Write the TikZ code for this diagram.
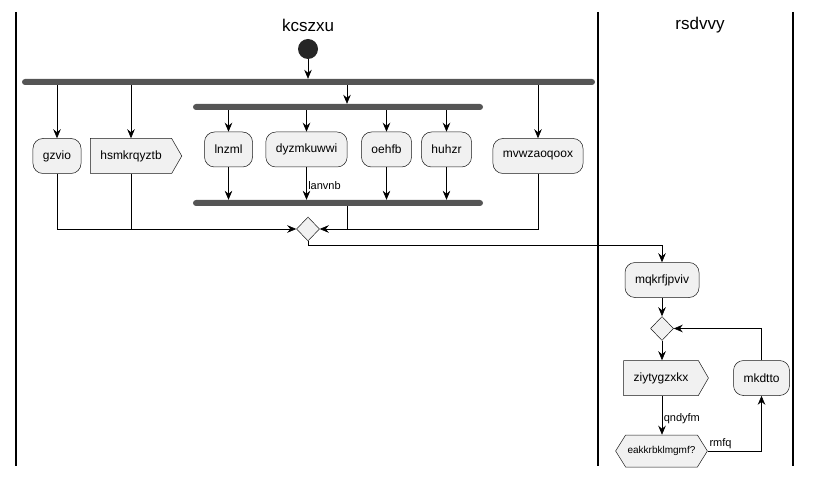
\documentclass[tikz,border=0pt]{standalone}
\usepackage{fontspec}
\setmainfont{Liberation Sans}
\usepackage{tikz}
\usetikzlibrary{arrows.meta,shapes.symbols,shapes.geometric}

\definecolor{boxfill}{HTML}{F1F1F1}
\definecolor{boxline}{HTML}{181818}
\definecolor{barfill}{HTML}{555555}

\tikzset{
  action/.style={draw=boxline, line width=0.5pt, fill=boxfill, rounded corners=10pt,
    minimum height=35pt, inner xsep=10pt, font=\fontsize{12}{14}\selectfont},
  sendsig/.style={signal, signal to=east, signal pointer angle=120, draw=boxline,
    line width=0.5pt, fill=boxfill, minimum height=35pt, inner xsep=10pt,
    font=\fontsize{12}{14}\selectfont},
  choice/.style={signal, signal to=west and east, signal pointer angle=116, draw=boxline,
    line width=0.5pt, fill=boxfill, minimum height=32pt, inner xsep=2pt,
    font=\fontsize{10}{12}\selectfont},
  syncbar/.style={rectangle, rounded corners=3pt, fill=barfill, minimum height=6pt,
    inner sep=0pt},
  merge/.style={diamond, draw=boxline, line width=0.5pt, fill=boxfill, minimum width=23pt,
    minimum height=24pt, inner sep=0pt},
  lane/.style={line width=1.2pt},
  lanetitle/.style={font=\fontsize{17}{20}\selectfont},
  arr/.style={-{Stealth[length=9pt,width=7.5pt,inset=3pt]}, line width=0.6pt},
  flow/.style={line width=0.6pt},
  lbl/.style={font=\fontsize{11}{13}\selectfont, inner sep=1.5pt}
}

\begin{document}
\begin{tikzpicture}[x=1pt, y=-1pt]
  \useasboundingbox (0,0) rectangle (813,478);
  % Lanes
  \draw[lane] (16,12) -- (16,466);
  \draw[lane] (598,12) -- (598,466);
  \draw[lane] (793,12) -- (793,466);
  \node[lanetitle] (kcszxu) at (308,25) {kcszxu}; %
  \node[lanetitle] (rsdvvy) at (700,25) {rsdvvy}; %

  % Nodes
  \node[circle, fill=black!85, minimum size=20pt, inner sep=0pt] (start) at (308,49) {}; %
  \node[syncbar, minimum width=573pt] (fork) at (308.5,82) {}; %
  \node[action] (gzvio) at (57,156) {gzvio}; %
  \node[sendsig] (hsmkrqyztb) at (131,156) {hsmkrqyztb}; %
  \node[syncbar, minimum width=290pt] (innerfork) at (338,107) {}; %
  \node[action] (lnzml) at (228.5,149.5) {lnzml}; %
  \node[action] (dyzmkuwwi) at (306.5,149.5) {dyzmkuwwi}; %
  \node[action] (oehfb) at (386.5,149.5) {oehfb}; %
  \node[action] (huhzr) at (446.5,149.5) {huhzr}; %
  \node[syncbar, minimum width=290pt] (innerjoin) at (338,203) {}; %
  \node[action] (mvwzaoqoox) at (538,156) {mvwzaoqoox}; %
  \node[merge] (merge) at (308,229) {}; %
  \node[action] (mqkrfjpviv) at (662,280) {mqkrfjpviv}; %
  \node[merge] (loop) at (662,328.5) {}; %
  \node[sendsig] (ziytygzxkx) at (661,378) {ziytygzxkx}; %
  \node[action] (mkdtto) at (761.5,378) {mkdtto}; %
  \node[choice] (eakkrbklmgmf) at (661.5,451) {eakkrbklmgmf?}; %

  % Edges
  \draw[arr] (start) -- (start |- fork.north); %
  \draw[arr] (gzvio |- fork.south) -- (gzvio); %
  \draw[arr] (hsmkrqyztb |- fork.south) -- (hsmkrqyztb.north); %
  \draw[arr] ([xshift=9pt]innerfork.north |- fork.south) -- ([xshift=9pt]innerfork.north); %
  \draw[arr] (mvwzaoqoox |- fork.south) -- (mvwzaoqoox); %
  \draw[arr] (lnzml |- innerfork.south) -- (lnzml); %
  \draw[arr] (dyzmkuwwi |- innerfork.south) -- (dyzmkuwwi); %
  \draw[arr] (oehfb |- innerfork.south) -- (oehfb); %
  \draw[arr] (huhzr |- innerfork.south) -- (huhzr); %
  \draw[arr] (lnzml) -- (lnzml |- innerjoin.north); %
  \draw[arr] (dyzmkuwwi) -- node[lbl, right, pos=0.55] {lanvnb} (dyzmkuwwi |- innerjoin.north); %
  \draw[arr] (oehfb) -- (oehfb |- innerjoin.north); %
  \draw[arr] (huhzr) -- (huhzr |- innerjoin.north); %
  \draw[arr] (gzvio.south) |- (merge.west); %
  \draw[flow] (hsmkrqyztb.south) -- (hsmkrqyztb.south |- merge); %
  \draw[arr] (mvwzaoqoox.south) |- (merge.east); %
  \draw[flow] ([xshift=9pt]innerjoin.south) -- ([xshift=9pt]innerjoin.south |- merge); %
  \draw[arr] (merge.south) -- ++(0,4) -| (mqkrfjpviv.north); %
  \draw[arr] (mqkrfjpviv) -- (loop); %
  \draw[arr] (loop) -- (loop |- ziytygzxkx.north); %
  \draw[arr] (loop |- ziytygzxkx.south) -- node[lbl, right, pos=0.6] {qndyfm} (loop |- eakkrbklmgmf.north); %
  \draw[arr] (eakkrbklmgmf.east) -| node[lbl, anchor=south west, pos=0] {rmfq} (mkdtto.south); %
  \draw[arr] (mkdtto.north) |- (loop.east); %
\end{tikzpicture}
\end{document}
